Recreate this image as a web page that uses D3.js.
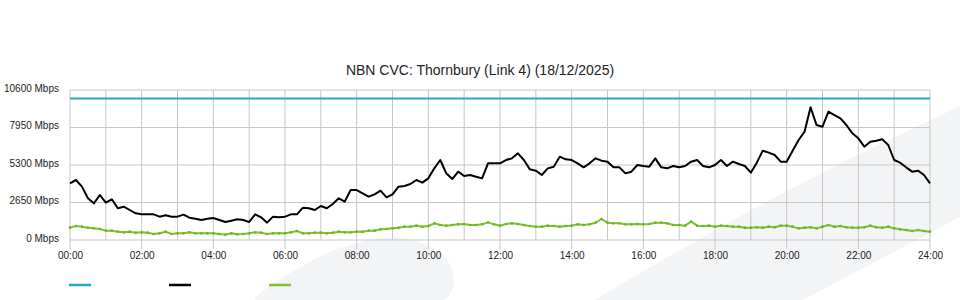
<html>
<head>
    <style>
        body { margin: 0; background: #fff; }
        text { font-family: "Liberation Sans", Arial, sans-serif; }
    </style>
</head>
<body>
    <svg id="container" height="300" width="960"></svg>
</body>
<script src="https://d3js.org/d3.v7.min.js"></script>
<script>
    // 10 minute samples from 00:00 to 24:00
    let stepMinutes = 10
    let capacity = 10000
    let yTicks = [0, 2650, 5300, 7950, 10600]
    let xTickLabels = ["00:00", "02:00", "04:00", "06:00", "08:00", "10:00", "12:00",
                       "14:00", "16:00", "18:00", "20:00", "22:00", "24:00"]

    // black series (Mbps)
    let trafficIn = [
        4007, 4240, 3770, 2945, 2590, 3180, 2640, 2875, 2240, 2355, 2120, 1885,
        1815, 1815, 1815, 1650, 1743, 1650, 1650, 1790, 1578, 1507, 1413, 1507,
        1554, 1413, 1272, 1366, 1460, 1413, 1272, 1815, 1600, 1225, 1650, 1600,
        1650, 1815, 1815, 2285, 2240, 2120, 2403, 2240, 2544, 2945, 2710, 3533,
        3533, 3298, 3062, 3227, 3486, 3015, 3227, 3770, 3816, 3957, 4240, 4052,
        4357, 5064, 5653, 4710, 4310, 4828, 4523, 4593, 4475, 4357, 5417, 5417,
        5417, 5653, 5770, 6124, 5653, 4993, 4899, 4593, 5064, 5182, 5889, 5700,
        5653, 5417, 5135, 5417, 5770, 5605, 5535, 5135, 5135, 4710, 4828, 5300,
        5229, 5182, 5770, 5135, 5064, 5229, 5135, 5229, 5535, 5653, 5229, 5135,
        5300, 5653, 5229, 5535, 5370, 5229, 4758, 5464, 6312, 6171, 6007, 5535,
        5535, 6312, 7067, 7655, 9376, 8127, 8009, 9070, 8833, 8597, 8127, 7537,
        7184, 6594, 6948, 7019, 7114, 6713, 5653, 5464, 5135, 4828, 4899, 4593,
        4007
    ]

    // green series (Mbps)
    let trafficOut = [
        872, 989, 942, 872, 824, 777, 660, 660, 589, 542, 589, 518,
        542, 518, 424, 471, 589, 424, 471, 471, 542, 471, 471, 471,
        471, 424, 377, 471, 400, 424, 471, 542, 518, 424, 471, 471,
        471, 542, 636, 471, 471, 518, 518, 471, 518, 589, 542, 542,
        589, 589, 660, 660, 754, 777, 824, 872, 942, 942, 1013, 942,
        989, 1178, 1060, 1013, 1060, 1107, 1131, 1060, 1060, 1107, 1248, 1107,
        1013, 1131, 1178, 1131, 1060, 989, 942, 942, 1013, 989, 942, 989,
        1013, 1107, 1060, 1107, 1225, 1484, 1225, 1178, 1178, 1107, 1107, 1131,
        1107, 1131, 1225, 1225, 1178, 1060, 1060, 1013, 1296, 1013, 989, 1013,
        942, 1013, 989, 942, 942, 872, 872, 895, 872, 942, 895, 1013,
        1013, 942, 824, 872, 895, 824, 942, 1060, 942, 989, 895, 872,
        872, 895, 1013, 895, 872, 942, 824, 754, 707, 636, 707, 636,
        589
    ]

    let svg = d3.select("#container")
    let plotLeft = 70, plotRight = 930, plotTop = 90, plotBottom = 240

    // faint background swoosh
    let swoosh = d3.line().curve(d3.curveCatmullRomClosed)
    svg.append("path")
        .attr("d", swoosh([[255, 302], [304, 265], [350, 245], [404, 238], [447, 260], [453, 287], [440, 302]]))
        .attr("fill", "#f3f4f6")
    svg.append("path")
        .attr("d", "M594,300 L640,273 L705,236 L760,205 L847,160 L960,106 L960,217 L803,300 Z")
        .attr("fill", "#f3f4f6")

    let xScale = d3.scaleLinear().domain([0, 1440]).range([plotLeft, plotRight])
    let yScale = d3.scaleLinear().domain([0, 10600]).range([plotBottom, plotTop])

    // grid
    let hours = d3.range(0, 25)
    svg.append("g").selectAll("line")
        .data(hours)
        .join("line")
        .attr("x1", d => xScale(d * 60))
        .attr("x2", d => xScale(d * 60))
        .attr("y1", plotTop)
        .attr("y2", d => d % 2 == 0 ? plotBottom + 9 : plotBottom)
        .attr("stroke", "#c6c6c6")
    svg.append("g").selectAll("line")
        .data(yTicks)
        .join("line")
        .attr("x1", plotLeft)
        .attr("x2", plotRight)
        .attr("y1", d => yScale(d))
        .attr("y2", d => yScale(d))
        .attr("stroke", "#c6c6c6")

    // axes
    let yAxis = svg.append("g")
        .attr("transform", "translate(" + (plotLeft - 11) + ",-2)")
        .call(d3.axisLeft(yScale).tickValues(yTicks).tickSize(0).tickPadding(0).tickFormat(d => d + " Mbps"))
    svg.append("g")
        .attr("transform", "translate(0," + plotBottom + ")")
        .call(d3.axisBottom(xScale)
            .tickValues(d3.range(0, 1441, 120))
            .tickSize(0).tickPadding(12)
            .tickFormat((d, i) => xTickLabels[i]))
    svg.selectAll(".domain").remove()
    svg.selectAll(".tick text")
        .style("font-size", "10px")
        .style("font-family", "\"Liberation Sans\", Arial, sans-serif")
        .attr("fill", "#222")

    // title
    svg.append("text")
        .attr("x", 480)
        .attr("y", 75)
        .attr("text-anchor", "middle")
        .style("font-size", "14px")
        .attr("fill", "#222")
        .text("NBN CVC: Thornbury (Link 4) (18/12/2025)")

    let xOf = (d, i) => xScale(i * stepMinutes)

    // capacity line
    svg.append("line")
        .attr("x1", xScale(0))
        .attr("x2", xScale(1440))
        .attr("y1", yScale(capacity))
        .attr("y2", yScale(capacity))
        .attr("stroke", "#25a5e0")
        .attr("stroke-width", 2)

    let line = d3.line().x(xOf).y(d => yScale(d))

    svg.append("path")
        .datum(trafficOut)
        .attr("d", line)
        .attr("fill", "none")
        .attr("stroke", "#7cc12b")
        .attr("stroke-width", 2)
        .attr("stroke-linejoin", "round")
    svg.append("g").selectAll("circle")
        .data(trafficOut)
        .join("circle")
        .attr("cx", xOf)
        .attr("cy", d => yScale(d))
        .attr("r", 1.3)
        .attr("fill", "#6fb327")

    svg.append("path")
        .datum(trafficIn)
        .attr("d", line)
        .attr("fill", "none")
        .attr("stroke", "#000")
        .attr("stroke-width", 2)
        .attr("stroke-linejoin", "round")

    // legend (no labels)
    let legendColors = ["#25a5e0", "#000", "#7cc12b"]
    svg.append("g").selectAll("line")
        .data(legendColors)
        .join("line")
        .attr("x1", (d, i) => 69 + i * 100)
        .attr("x2", (d, i) => 91 + i * 100)
        .attr("y1", 285)
        .attr("y2", 285)
        .attr("stroke", d => d)
        .attr("stroke-width", 2.5)
</script>
</html>
